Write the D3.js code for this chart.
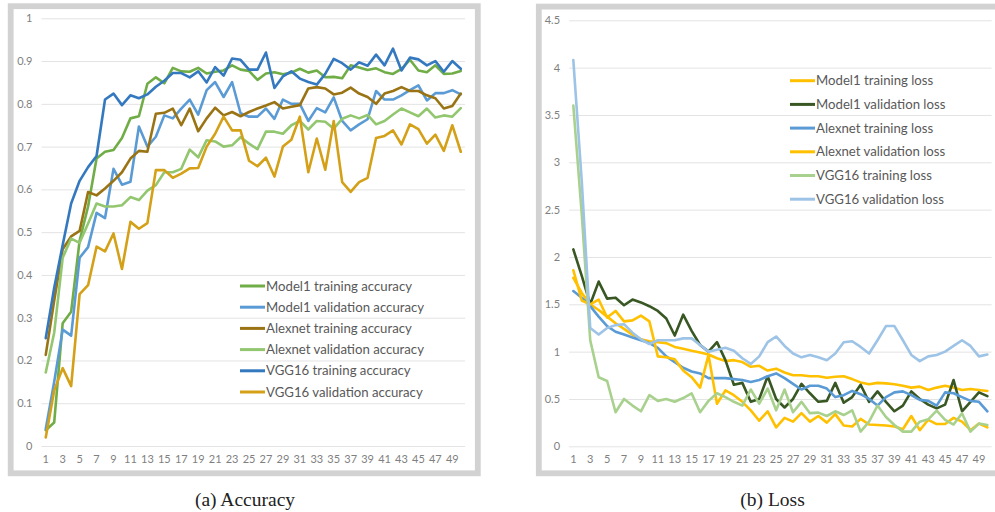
<!DOCTYPE html>
<html>
<head>
<meta charset="utf-8">
<script src="https://cdn.jsdelivr.net/npm/d3@7"></script>
<style>
  html, body { margin: 0; padding: 0; background: #ffffff; }
  svg { display: block; }
</style>
</head>
<body>
<svg id="chart" width="995" height="512"></svg>
<script>
// Epochs on the category axis
const epochs = [1,2,3,4,5,6,7,8,9,10,11,12,13,14,15,16,17,18,19,20,21,22,23,24,25,
  26,27,28,29,30,31,32,33,34,35,36,37,38,39,40,41,42,43,44,45,46,47,48,49,50];
const epochTickLabels = [1,3,5,7,9,11,13,15,17,19,21,23,25,27,29,31,33,35,37,39,41,43,45,47,49];

// (a) Accuracy
const accuracyTicks = [0, 0.1, 0.2, 0.3, 0.4, 0.5, 0.6, 0.7, 0.8, 0.9, 1];
const model1TrainAcc = [0.037,0.055,0.287,0.314,0.48,0.56,0.672,0.688,0.692,0.72,0.766,0.771,0.847,0.862,0.848,0.884,0.876,0.875,0.884,0.871,0.875,0.878,0.89,0.88,0.877,0.856,0.871,0.874,0.869,0.873,0.882,0.873,0.878,0.862,0.863,0.86,0.89,0.885,0.879,0.883,0.874,0.87,0.882,0.903,0.878,0.874,0.89,0.87,0.871,0.877];
const model1ValAcc = [0.04,0.15,0.272,0.258,0.44,0.465,0.545,0.533,0.648,0.611,0.618,0.747,0.7,0.723,0.773,0.766,0.789,0.81,0.775,0.832,0.851,0.816,0.851,0.778,0.77,0.77,0.789,0.765,0.81,0.8,0.8,0.76,0.79,0.78,0.815,0.76,0.738,0.752,0.764,0.83,0.81,0.81,0.82,0.832,0.843,0.808,0.825,0.825,0.832,0.822];
const alexnetTrainAcc = [0.213,0.34,0.46,0.49,0.503,0.594,0.586,0.602,0.62,0.64,0.672,0.69,0.688,0.777,0.779,0.789,0.75,0.789,0.736,0.766,0.791,0.773,0.781,0.771,0.781,0.789,0.796,0.804,0.789,0.793,0.797,0.836,0.839,0.836,0.822,0.826,0.838,0.824,0.816,0.8,0.824,0.83,0.839,0.83,0.83,0.82,0.813,0.789,0.795,0.824];
const alexnetValAcc = [0.172,0.265,0.44,0.485,0.475,0.52,0.567,0.56,0.56,0.563,0.582,0.575,0.597,0.61,0.64,0.64,0.648,0.693,0.675,0.715,0.712,0.7,0.703,0.722,0.707,0.694,0.735,0.735,0.73,0.75,0.76,0.74,0.76,0.758,0.742,0.765,0.773,0.766,0.774,0.752,0.76,0.775,0.789,0.78,0.771,0.789,0.768,0.773,0.77,0.79];
const vgg16TrainAcc = [0.252,0.37,0.47,0.567,0.62,0.652,0.678,0.81,0.824,0.797,0.82,0.813,0.822,0.84,0.854,0.872,0.872,0.862,0.876,0.85,0.886,0.866,0.906,0.903,0.88,0.88,0.92,0.837,0.864,0.876,0.859,0.851,0.845,0.87,0.905,0.895,0.88,0.897,0.889,0.915,0.89,0.929,0.878,0.908,0.904,0.89,0.9,0.875,0.9,0.882];
const vgg16ValAcc = [0.02,0.13,0.182,0.14,0.355,0.376,0.466,0.455,0.497,0.414,0.524,0.508,0.521,0.645,0.645,0.627,0.637,0.649,0.65,0.7,0.73,0.77,0.738,0.738,0.667,0.654,0.674,0.63,0.7,0.716,0.77,0.64,0.719,0.646,0.76,0.617,0.594,0.617,0.627,0.72,0.725,0.738,0.705,0.752,0.741,0.707,0.728,0.69,0.75,0.688];

// (b) Loss
const lossTicks = [0, 0.5, 1, 1.5, 2, 2.5, 3, 3.5, 4, 4.5];
const model1TrainLoss = [1.78,1.62,1.5,1.44,1.37,1.3,1.24,1.18,1.13,1.11,1.1,1.09,1.05,1.03,1.01,0.99,0.97,0.93,0.9,0.91,0.89,0.84,0.85,0.8,0.82,0.78,0.75,0.75,0.74,0.74,0.725,0.735,0.74,0.71,0.675,0.655,0.67,0.665,0.655,0.64,0.62,0.63,0.595,0.62,0.64,0.62,0.595,0.605,0.595,0.585];
const model1ValLoss = [2.08,1.8,1.5,1.74,1.56,1.57,1.49,1.55,1.52,1.48,1.43,1.35,1.17,1.39,1.22,1.07,1.0,1.1,0.91,0.65,0.67,0.47,0.5,0.74,0.5,0.41,0.5,0.66,0.56,0.47,0.48,0.67,0.46,0.52,0.65,0.47,0.58,0.47,0.37,0.43,0.58,0.5,0.44,0.4,0.44,0.7,0.37,0.47,0.57,0.53];
const alexnetTrainLoss = [1.64,1.57,1.48,1.37,1.27,1.21,1.18,1.15,1.12,1.09,1.04,0.95,0.89,0.83,0.79,0.77,0.72,0.72,0.72,0.71,0.7,0.68,0.7,0.74,0.77,0.72,0.66,0.6,0.64,0.64,0.61,0.52,0.54,0.585,0.55,0.5,0.43,0.52,0.57,0.58,0.54,0.49,0.48,0.43,0.57,0.56,0.52,0.48,0.47,0.37];
const alexnetValLoss = [1.86,1.54,1.5,1.55,1.36,1.43,1.32,1.33,1.38,1.32,0.95,0.94,0.92,0.8,0.73,0.62,0.965,0.45,0.59,0.54,0.47,0.38,0.27,0.37,0.2,0.3,0.26,0.35,0.26,0.32,0.25,0.34,0.22,0.21,0.29,0.23,0.225,0.22,0.21,0.18,0.32,0.17,0.28,0.235,0.235,0.3,0.26,0.17,0.24,0.2];
const vgg16TrainLoss = [3.6,2.45,1.12,0.73,0.69,0.36,0.5,0.43,0.37,0.54,0.48,0.5,0.47,0.51,0.56,0.36,0.48,0.56,0.52,0.47,0.43,0.6,0.45,0.61,0.38,0.6,0.36,0.47,0.35,0.356,0.32,0.37,0.33,0.38,0.155,0.26,0.43,0.31,0.225,0.155,0.155,0.26,0.285,0.377,0.28,0.23,0.35,0.155,0.24,0.225];
const vgg16ValLoss = [4.08,2.8,1.25,1.18,1.25,1.28,1.29,1.2,1.13,1.08,1.12,1.12,1.12,1.14,1.14,1.07,1.0,1.02,1.04,1.01,0.93,0.87,0.95,1.1,1.16,1.06,0.98,0.94,0.965,0.94,0.91,0.98,1.1,1.11,1.05,0.98,1.12,1.27,1.27,1.12,0.965,0.9,0.95,0.965,1.0,1.06,1.12,1.06,0.95,0.97];

const accuracySeries = [
  { name: "Model1 training accuracy",   values: model1TrainAcc,  color: "#70AD47" },
  { name: "Model1 validation accuracy", values: model1ValAcc,    color: "#5B9BD5" },
  { name: "Alexnet training accuracy",  values: alexnetTrainAcc, color: "#9A7414" },
  { name: "Alexnet validation accuracy",values: alexnetValAcc,   color: "#92C66F" },
  { name: "VGG16 training accuracy",    values: vgg16TrainAcc,   color: "#3479C0" },
  { name: "VGG16 validation accuracy",  values: vgg16ValAcc,     color: "#D4A017" }
];
const lossSeries = [
  { name: "Model1 training loss",    values: model1TrainLoss,  color: "#FFC000" },
  { name: "Model1 validation loss",  values: model1ValLoss,    color: "#385723" },
  { name: "Alexnet training loss",   values: alexnetTrainLoss, color: "#5B9BD5" },
  { name: "Alexnet validation loss", values: alexnetValLoss,   color: "#FFC000" },
  { name: "VGG16 training loss",     values: vgg16TrainLoss,   color: "#A9D18E" },
  { name: "VGG16 validation loss",   values: vgg16ValLoss,     color: "#9DC3E6" }
];

const svg = d3.select("#chart");
const tickFont = "Lato, 'Open Sans', sans-serif";

function drawPanel(cfg) {
  const g = svg.append("g");

  // grey frame around the chart area
  g.append("rect")
    .attr("x", cfg.frame.x).attr("y", cfg.frame.y)
    .attr("width", cfg.frame.w).attr("height", cfg.frame.h)
    .attr("fill", "#ffffff")
    .attr("stroke", "#d2d2d2")
    .attr("stroke-width", 5.8);

  const x = d3.scaleBand().domain(epochs).range([cfg.plot.x0, cfg.plot.x1]).padding(0);
  const y = d3.scaleLinear().domain([0, cfg.yMax]).range([cfg.plot.y0, cfg.plot.y1]);
  const cx = d => x(d) + x.bandwidth() / 2;

  // horizontal gridlines + value labels
  const yAxis = g.append("g")
    .attr("transform", `translate(${cfg.plot.x0},0)`)
    .call(d3.axisLeft(y).tickValues(cfg.yTicks)
      .tickSize(-(cfg.plot.x1 - cfg.plot.x0)).tickPadding(9)
      .tickFormat(d3.format("~g")));
  yAxis.select(".domain").remove();
  yAxis.selectAll(".tick line").attr("stroke", "#e3e3e3").attr("stroke-width", 1);
  yAxis.selectAll(".tick text")
    .attr("fill", "#7f7f7f").style("font-family", tickFont).style("font-size", "11px");

  // category labels
  const xAxis = g.append("g")
    .attr("transform", `translate(0,${cfg.plot.y0})`)
    .call(d3.axisBottom(x).tickValues(epochTickLabels).tickSize(0).tickPadding(9));
  xAxis.select(".domain").remove();
  xAxis.selectAll(".tick text")
    .attr("fill", "#7f7f7f").style("font-family", tickFont).style("font-size", "11px");

  // series lines
  const line = d3.line().x((v, i) => cx(epochs[i])).y(v => y(v));
  g.append("g").selectAll("path")
    .data(cfg.series).join("path")
    .attr("d", s => line(s.values))
    .attr("fill", "none")
    .attr("stroke", s => s.color)
    .attr("stroke-width", 2.6)
    .attr("stroke-linejoin", "round")
    .attr("stroke-linecap", "round");

  // legend
  const lg = g.append("g").selectAll("g")
    .data(cfg.series).join("g")
    .attr("transform", (s, i) => `translate(${cfg.legend.x},${cfg.legend.y + i * cfg.legend.step})`);
  lg.append("line")
    .attr("x1", 0).attr("x2", 25).attr("y1", 0).attr("y2", 0)
    .attr("stroke", s => s.color).attr("stroke-width", 3);
  lg.append("text")
    .attr("x", 26).attr("y", 0).attr("dy", "0.35em")
    .attr("fill", "#595959")
    .style("font-family", tickFont).style("font-size", "13.2px")
    .text(s => s.name);

  // caption below the frame
  svg.append("text")
    .attr("x", cfg.caption.x).attr("y", cfg.caption.y)
    .attr("text-anchor", "middle").attr("dy", "0.35em")
    .attr("fill", "#222")
    .style("font-family", "'Liberation Serif', 'DejaVu Serif', serif")
    .style("font-size", "19.5px")
    .text(cfg.caption.text);
}

drawPanel({
  frame: { x: 10.7, y: 6.2, w: 467.1, h: 467.1 },
  plot: { x0: 41.5, x1: 465, y0: 446, y1: 18.3 },
  yMax: 1, yTicks: accuracyTicks,
  series: accuracySeries,
  legend: { x: 240, y: 286, step: 21.2 },
  caption: { x: 245, y: 499, text: "(a) Accuracy" }
});

drawPanel({
  frame: { x: 538.8, y: 6.6, w: 470, h: 466.7 },
  plot: { x0: 569.1, x1: 991.6, y0: 446.3, y1: 20.3 },
  yMax: 4.5, yTicks: lossTicks,
  series: lossSeries,
  legend: { x: 790, y: 80.7, step: 23.7 },
  caption: { x: 772.5, y: 499, text: "(b) Loss" }
});
</script>
</body>
</html>
